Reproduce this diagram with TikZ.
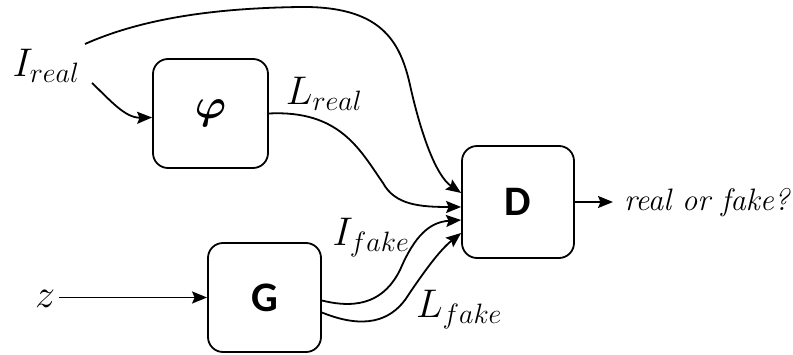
\RequirePackage{fix-cm}
\documentclass[tikz,border=0pt]{standalone}
\usepackage{fontspec}
\usepackage{amsmath}
\usepackage{bm}
\newfontfamily\boxfont{Carlito}
\usetikzlibrary{arrows.meta}
\tikzset{
  blk/.style={draw, line width=1.8pt, rounded corners=15pt, minimum width=113pt, minimum height=110pt, inner sep=0pt},
  lab/.style={inner sep=0pt, font=\fontsize{40}{48}\selectfont},
  con/.style={line width=1.8pt, -{Stealth[length=15pt,width=12pt,inset=2.5pt]}},
}
\begin{document}
\begin{tikzpicture}[x=1pt,y=-1pt]
\useasboundingbox (0,0) rectangle (793,355);
\node[blk, minimum width=115pt, minimum height=109pt] (phi) at (210.5,113.5) {\fontsize{42}{48}\selectfont$\bm{\varphi}$};
\node[blk, minimum width=112pt, minimum height=112pt] (D) at (518,202) {\fontsize{42}{48}\selectfont\boxfont\bfseries D};
\node[blk, minimum width=113pt, minimum height=109pt] (G) at (264.5,297.5) {\fontsize{42}{48}\selectfont\boxfont\bfseries G};
\node[lab] (Ireal) at (46,66) {$I_{real}$};
\node[lab] (Lreal) at (324,94) {$L_{real}$};
\node[lab] (Ifake) at (371,238) {$I_{fake}$};
\node[lab] (Lfake) at (459,310) {$L_{fake}$};
\node[lab] (z) at (45,299) {$z$};
\node[inner sep=0pt, anchor=west, font=\fontsize{31}{36}\selectfont\itshape] (out) at (624,203) {real or fake?};
\coordinate (o) at (613,202);
\coordinate (a1) at (85,44);
\coordinate (a2) at (92,83);
% connectors
\draw[con] (a1) .. controls (150,15) and (230,8) .. (300,7) .. controls (380,6) and (400,40) .. (410,85) .. controls (420,130) and (435,175) .. ([yshift=9pt]D.west);
\draw[con] (a2) .. controls (110,100) and (125,118) .. ([yshift=-4pt]phi.west);
\draw[con] (phi.east) .. controls (340,110) and (360,150) .. (383,183) .. controls (395,205) and (420,207) .. ([yshift=-5pt]D.west);
\draw[con] ([yshift=-3pt]G.east) .. controls (360,310) and (385,300) .. (400,270) .. controls (415,235) and (430,222) .. ([yshift=-18pt]D.west);
\draw[con] ([yshift=-15pt]G.east) .. controls (365,330) and (390,320) .. (405,300) .. controls (425,270) and (440,250) .. ([yshift=-31pt]D.west);
\draw[con] ([xshift=4pt]z.east |- G.west) -- (G.west);
\draw[con] (D.east) -- (o);
\end{tikzpicture}
\end{document}
